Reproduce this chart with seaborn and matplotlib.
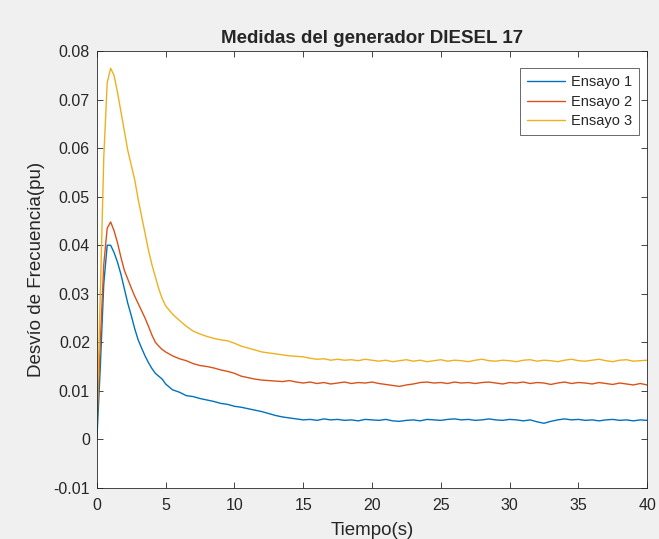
import numpy as np
import pandas as pd
import matplotlib
matplotlib.use("Agg")
import matplotlib.pyplot as plt
import seaborn as sns

# tiempo (s)
tiempo = [0.0, 0.25, 0.5, 0.75, 1.0, 1.25, 1.5, 1.75, 2.0, 2.25, 2.5, 2.75, 3.0, 3.25, 3.5, 3.75,
          4.0, 4.25, 4.5, 4.75, 5.0, 5.5, 6.0, 6.5, 7.0, 7.5, 8.0, 8.5, 9.0, 9.5, 10.0, 10.5,
          11.0, 11.5, 12.0, 12.5, 13.0, 13.5, 14.0, 14.5, 15.0, 15.5, 16.0, 16.5, 17.0, 17.5,
          18.0, 18.5, 19.0, 19.5, 20.0, 20.5, 21.0, 21.5, 22.0, 22.5, 23.0, 23.5, 24.0, 24.5,
          25.0, 25.5, 26.0, 26.5, 27.0, 27.5, 28.0, 28.5, 29.0, 29.5, 30.0, 30.5, 31.0, 31.5,
          32.0, 32.5, 33.0, 33.5, 34.0, 34.5, 35.0, 35.5, 36.0, 36.5, 37.0, 37.5, 38.0, 38.5,
          39.0, 39.5, 40.0]

ensayo1 = [0.000, 0.015, 0.032, 0.0400, 0.0400, 0.0385, 0.0365, 0.0340, 0.0310, 0.0280, 0.0255,
           0.0228, 0.0205, 0.0188, 0.0172, 0.0158, 0.0146, 0.0136, 0.0130, 0.0124, 0.0114,
           0.0102, 0.0097, 0.0090, 0.0088, 0.0084, 0.0081, 0.0078, 0.0074, 0.0072, 0.0068,
           0.0066, 0.0063, 0.0060, 0.0057, 0.0053, 0.0049, 0.0046, 0.0044, 0.0042, 0.0040,
           0.0041, 0.0039, 0.0042, 0.0040, 0.0041, 0.0039, 0.0040, 0.0038, 0.0041, 0.0040,
           0.0039, 0.0041, 0.0038, 0.0037, 0.0039, 0.0040, 0.0038, 0.0041, 0.0040, 0.0039,
           0.0041, 0.0042, 0.0040, 0.0041, 0.0039, 0.0040, 0.0042, 0.0040, 0.0039, 0.0041,
           0.0040, 0.0038, 0.0040, 0.0036, 0.0033, 0.0037, 0.0040, 0.0042, 0.0040, 0.0041,
           0.0039, 0.0040, 0.0038, 0.0040, 0.0041, 0.0039, 0.0040, 0.0038, 0.0040, 0.0039]

ensayo2 = [0.003, 0.020, 0.036, 0.0435, 0.0448, 0.0430, 0.0405, 0.0375, 0.0348, 0.0330, 0.0312,
           0.0295, 0.0280, 0.0265, 0.0250, 0.0233, 0.0215, 0.0200, 0.0192, 0.0185, 0.0180,
           0.0172, 0.0166, 0.0162, 0.0156, 0.0152, 0.0150, 0.0147, 0.0143, 0.0140, 0.0136,
           0.0130, 0.0127, 0.0124, 0.0122, 0.0121, 0.0120, 0.0119, 0.0121, 0.0118, 0.0116,
           0.0118, 0.0115, 0.0117, 0.0114, 0.0116, 0.0118, 0.0115, 0.0117, 0.0116, 0.0118,
           0.0115, 0.0113, 0.0111, 0.0109, 0.0112, 0.0114, 0.0117, 0.0118, 0.0116, 0.0117,
           0.0115, 0.0118, 0.0116, 0.0117, 0.0115, 0.0117, 0.0118, 0.0116, 0.0114, 0.0117,
           0.0116, 0.0118, 0.0115, 0.0117, 0.0116, 0.0113, 0.0116, 0.0118, 0.0115, 0.0117,
           0.0116, 0.0114, 0.0117, 0.0115, 0.0113, 0.0116, 0.0114, 0.0112, 0.0115, 0.0112]

ensayo3 = [0.003, 0.030, 0.058, 0.0735, 0.0765, 0.0750, 0.0715, 0.0675, 0.0635, 0.0595, 0.0565,
           0.0535, 0.0495, 0.0460, 0.0425, 0.0390, 0.0360, 0.0335, 0.0310, 0.0290, 0.0275,
           0.0258, 0.0245, 0.0233, 0.0223, 0.0217, 0.0212, 0.0208, 0.0205, 0.0203, 0.0198,
           0.0192, 0.0188, 0.0184, 0.0180, 0.0178, 0.0176, 0.0174, 0.0172, 0.0171, 0.0170,
           0.0167, 0.0165, 0.0166, 0.0163, 0.0165, 0.0163, 0.0164, 0.0162, 0.0165, 0.0163,
           0.0161, 0.0163, 0.0160, 0.0162, 0.0164, 0.0161, 0.0163, 0.0160, 0.0162, 0.0164,
           0.0161, 0.0163, 0.0162, 0.0160, 0.0163, 0.0165, 0.0162, 0.0161, 0.0163, 0.0162,
           0.0160, 0.0163, 0.0164, 0.0161, 0.0163, 0.0162, 0.0160, 0.0163, 0.0165, 0.0162,
           0.0161, 0.0163, 0.0165, 0.0162, 0.0160, 0.0163, 0.0164, 0.0161, 0.0162, 0.0163]

nombres = ["Ensayo 1", "Ensayo 2", "Ensayo 3"]
colores = ["#0072BD", "#D95319", "#EDB120"]

df = pd.DataFrame({
    "Tiempo": tiempo * 3,
    "Desvio": ensayo1 + ensayo2 + ensayo3,
    "Ensayo": [n for n in nombres for _ in tiempo],
})

sns.set_style("ticks")
plt.rcParams["font.family"] = ["Liberation Sans", "DejaVu Sans"]

fig = plt.figure(figsize=(6.59, 5.39), dpi=100, facecolor="#f0f0f0")
ax = fig.add_axes([0.147, 0.095, 0.835, 0.81])
ax.set_facecolor("white")

sns.lineplot(data=df, x="Tiempo", y="Desvio", hue="Ensayo", palette=colores,
             linewidth=1.0, ax=ax)

ax.set_xlim(0, 40)
ax.set_ylim(-0.01, 0.08)
ax.set_xticks([0, 5, 10, 15, 20, 25, 30, 35, 40])
ax.set_yticks([-0.01, 0, 0.01, 0.02, 0.03, 0.04, 0.05, 0.06, 0.07, 0.08])
ax.set_yticklabels(["-0.01", "0", "0.01", "0.02", "0.03", "0.04", "0.05", "0.06", "0.07", "0.08"])
ax.tick_params(direction="in", top=True, right=True, length=4, width=0.6,
               labelsize=11.5, colors="#262626")
ax.tick_params(axis="x", pad=7)
ax.tick_params(axis="y", pad=5)
for s in ax.spines.values():
    s.set_linewidth(0.6)
    s.set_color("#262626")

ax.set_title("Medidas del generador DIESEL 17", fontsize=13.5, fontweight="bold", pad=6)
ax.set_xlabel("Tiempo(s)", fontsize=13.5, labelpad=7)
ax.set_ylabel("Desvío de Frecuencia(pu)", fontsize=13.5, labelpad=6)

leg = ax.legend(loc="upper right", bbox_to_anchor=(0.9855, 0.961), fontsize=10.5,
                frameon=True, fancybox=False, edgecolor="#262626", borderaxespad=0,
                handlelength=2.6, labelspacing=0.4, borderpad=0.45, handletextpad=0.45)
leg.get_frame().set_linewidth(0.6)

fig.savefig("out.png", dpi=100, facecolor=fig.get_facecolor())
